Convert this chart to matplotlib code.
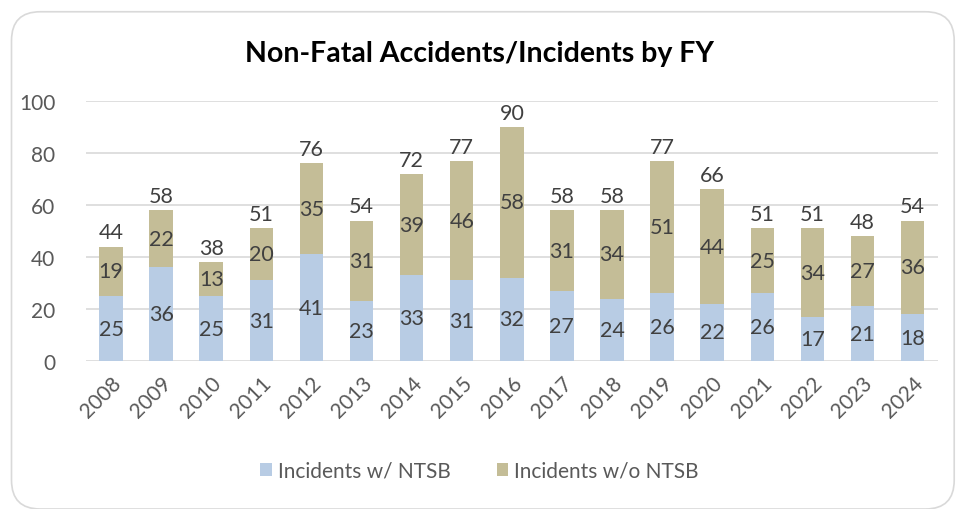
import matplotlib
matplotlib.use("Agg")
import matplotlib.pyplot as plt
from matplotlib.patches import FancyBboxPatch

years = ["2008", "2009", "2010", "2011", "2012", "2013", "2014", "2015", "2016",
         "2017", "2018", "2019", "2020", "2021", "2022", "2023", "2024"]
with_ntsb = [25, 36, 25, 31, 41, 23, 33, 31, 32, 27, 24, 26, 22, 26, 17, 21, 18]
without_ntsb = [19, 22, 13, 20, 35, 31, 39, 46, 58, 31, 34, 51, 44, 25, 34, 27, 36]

BLUE = "#b8cce4"
TAN = "#c4bd97"
TXT = "#404040"
TICK = "#595959"

plt.rcParams["font.family"] = ["Lato", "DejaVu Sans"]

fig = plt.figure(figsize=(9.59, 5.10), dpi=100)
border = FancyBboxPatch((0.012, 0.0), 0.983, 0.975, boxstyle="round,pad=0,rounding_size=0.03",
                        transform=fig.transFigure, facecolor="none",
                        edgecolor="#d9d9d9", linewidth=1.2, mutation_aspect=959 / 510)
fig.patches.append(border)
ax = fig.add_axes([0.0897, 0.290, 0.888, 0.510])
ax.patch.set_alpha(0)

x = list(range(len(years)))
totals = [a + b for a, b in zip(with_ntsb, without_ntsb)]
b1 = ax.bar(x, with_ntsb, width=0.47, color=BLUE, label="Incidents w/ NTSB", zorder=2)
b2 = ax.bar(x, without_ntsb, bottom=with_ntsb, width=0.47, color=TAN,
            label="Incidents w/o NTSB", zorder=2)
ax.bar_label(b1, label_type="center", fontsize=15.5, color=TXT)
ax.bar_label(b2, label_type="center", fontsize=15.5, color=TXT)
for xi, t in zip(x, totals):
    ax.annotate(str(t), (xi, t), xytext=(0, 3), textcoords="offset points",
                ha="center", va="bottom", fontsize=15.5, color=TXT)

ax.set_ylim(0, 100)
ax.set_xlim(-0.5, len(years) - 0.5)
ax.set_yticks(range(0, 101, 20))
ax.yaxis.grid(True, color="#d9d9d9", linewidth=1.2, zorder=0)
ax.set_axisbelow(True)
for s in ax.spines.values():
    s.set_visible(False)
ax.tick_params(axis="both", length=0, labelsize=15, labelcolor=TICK)
ax.tick_params(axis="y", pad=22)
ax.tick_params(axis="x", pad=8)
ax.set_xticks(x)
ax.set_xticklabels(years, rotation=45, ha="right", rotation_mode="anchor")

fig.text(0.5, 0.895, "Non-Fatal Accidents/Incidents by FY", ha="center", va="center",
         fontsize=20.5, fontweight="bold", color="black")
fig.legend(loc="center", bbox_to_anchor=(0.5, 0.075), ncol=2, frameon=False,
           fontsize=15, labelcolor=TICK, handlelength=0.55, handleheight=0.55,
           handletextpad=0.3, columnspacing=2.2)

fig.savefig("out.png", dpi=100)
